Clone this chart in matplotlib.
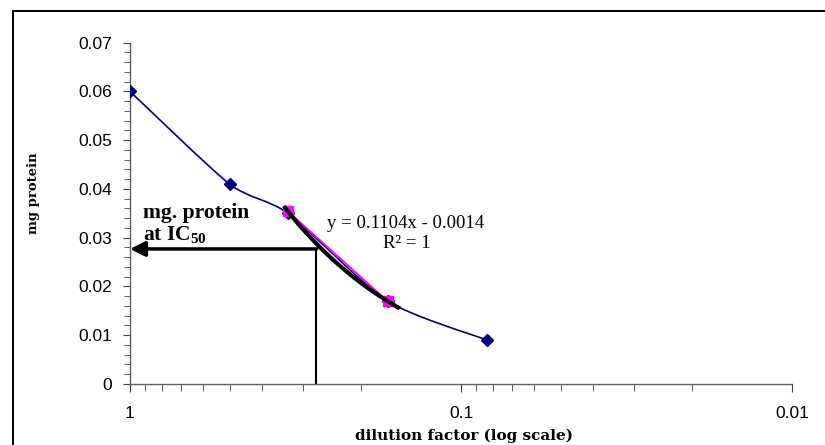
#!/usr/bin/env python3
"""Protein dilution curve with IC50 read-off, log x axis reversed."""

import numpy as np
import matplotlib
matplotlib.use("Agg")
import matplotlib.pyplot as plt
from matplotlib.patches import Rectangle
from matplotlib.path import Path
from matplotlib.patches import PathPatch
from matplotlib.ticker import FixedLocator, LogLocator, NullFormatter

plt.rcParams["font.family"] = ["Liberation Sans", "DejaVu Sans"]
plt.rcParams["mathtext.fontset"] = "custom"
plt.rcParams["mathtext.rm"] = "Liberation Serif"
plt.rcParams["mathtext.bf"] = "Liberation Serif:bold"

# data
dilution = [1, 1 / 2, 1 / 3, 1 / 6, 1 / 12]
protein = [0.060, 0.041, 0.035, 0.017, 0.009]
fit_x = [1 / 3, 1 / 6]
fit_y = [0.0354, 0.0170]
slope, intercept = 0.1104, -0.0014
trend_range = [0.34, 0.155]
ic50_x, ic50_y = 0.274, 0.0277
yticks = [0, 0.01, 0.02, 0.03, 0.04, 0.05, 0.06, 0.07]
ytick_labels = ["0", "0.01", "0.02", "0.03", "0.04", "0.05", "0.06", "0.07"]
xticks = [1, 0.1, 0.01]
xtick_labels = ["1", "0.1", "0.01"]

W, H = 825, 445
fig = plt.figure(figsize=(8.25, 4.45), dpi=100)
ax = fig.add_axes([130 / W, 61 / H, 662 / W, 341.3 / H])
ax.set_xscale("log")
ax.set_xlim(1, 0.01)
ax.set_ylim(0, 0.07)

# outer chart border (runs off the right and bottom edges)
fig.patches.append(Rectangle((13 / W, -0.05), 1.0, 1.0 - 11 / H + 0.05,
                             transform=fig.transFigure, fill=False,
                             edgecolor="black", lw=1.4))


def smooth_path(xs, ys, k=0.12):
    # bezier smoothing through the points, in (log x, y) space
    lx = np.log10(xs)
    pts = np.column_stack([lx, ys])
    n = len(pts)
    verts = [pts[0]]
    codes = [Path.MOVETO]
    for i in range(n - 1):
        p0 = pts[max(i - 1, 0)]
        p1 = pts[i]
        p2 = pts[i + 1]
        p3 = pts[min(i + 2, n - 1)]
        c1 = p1 + (p2 - p0) * k
        c2 = p2 - (p3 - p1) * k
        verts += [c1, c2, p2]
        codes += [Path.CURVE4] * 3
    verts = np.array(verts)
    verts[:, 0] = 10 ** verts[:, 0]
    return Path(verts, codes)


ax.add_patch(PathPatch(smooth_path(dilution, protein), fill=False,
                       edgecolor="#000080", lw=1.2, zorder=3))
ax.plot(dilution, protein, ls="none", marker="D", ms=6.5, color="#000080", zorder=4)

# linear fit series and its trendline
ax.plot(fit_x, fit_y, color="#FF00FF", lw=1.3, marker="s", ms=6.5, zorder=4)
tx = np.geomspace(trend_range[0], trend_range[1], 60)
ax.plot(tx, slope * tx + intercept, color="black", lw=3, zorder=5)

# IC50 read-off
ax.plot([ic50_x, ic50_x], [0, ic50_y], color="black", lw=1.5, zorder=2)
ax.annotate("", xy=(1, ic50_y), xytext=(ic50_x - 0.001, ic50_y),
            arrowprops=dict(arrowstyle="-|>,head_length=0.9,head_width=0.45",
                            color="black", lw=2.5, shrinkA=0, shrinkB=0),
            zorder=2)
fig.text(143 / W, 1 - 246 / H, "mg. protein\nat IC$_{\\mathbf{50}}$",
         fontsize=15.5, fontweight="bold", family="Liberation Serif",
         ha="left", va="bottom", linespacing=1.1)

fig.text(406 / W, 1 - 223 / H, "y = 0.1104x - 0.0014",
         fontsize=13.5, family="Liberation Serif", ha="center", va="center")
fig.text(407 / W, 1 - 243 / H, "R\u00b2 = 1",
         fontsize=13.5, family="Liberation Serif", ha="center", va="center")

# axes styling
for side in ["top", "right"]:
    ax.spines[side].set_visible(False)
for side in ["left", "bottom"]:
    ax.spines[side].set_color("#606060")
    ax.spines[side].set_linewidth(1.0)

ax.yaxis.set_major_locator(FixedLocator(yticks))
ax.set_yticklabels(ytick_labels)
ax.yaxis.set_minor_locator(FixedLocator(np.arange(0, 0.0701, 0.002)))
ax.xaxis.set_major_locator(FixedLocator(xticks))
ax.set_xticklabels(xtick_labels)
ax.xaxis.set_minor_locator(LogLocator(base=10, subs=np.arange(2, 10)))
ax.xaxis.set_minor_formatter(NullFormatter())

ax.tick_params(axis="both", which="both", direction="out", color="#404040",
               labelsize=12.5, labelcolor="black")
ax.tick_params(axis="y", which="major", length=5, pad=8)
ax.tick_params(axis="y", which="minor", length=4)
ax.tick_params(axis="x", which="major", length=6, pad=10)
ax.tick_params(axis="x", which="minor", length=5)

fig.text(464 / W, 1 - 436 / H, "dilution factor (log scale)",
         fontsize=11, fontweight="bold", family="DejaVu Serif",
         ha="center", va="center")
fig.text(33 / W, 1 - 193 / H, "mg protein", rotation=90,
         fontsize=9.5, fontweight="bold", family="DejaVu Serif",
         ha="center", va="center")

fig.savefig("out.png", dpi=100, facecolor="white")
